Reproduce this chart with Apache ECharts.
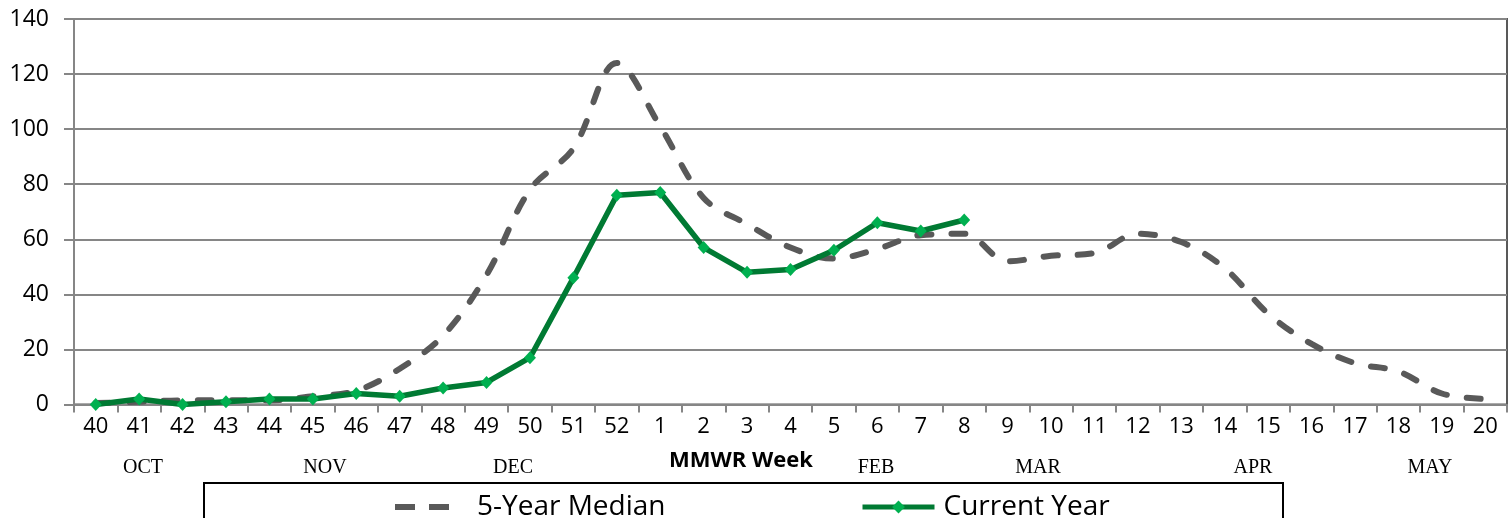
<!DOCTYPE html>
<html><head><meta charset="utf-8">
<script src="https://cdn.jsdelivr.net/npm/echarts@6/dist/echarts.min.js"></script>
<style>html,body{margin:0;padding:0;background:#fff}#c{width:1510px;height:518px}</style>
</head><body><div id="c"></div>
<script>
const weeks = ['40','41','42','43','44','45','46','47','48','49','50','51','52','1','2','3','4','5','6','7','8','9','10','11','12','13','14','15','16','17','18','19','20'];
const medianValues = [0.5,1,1.5,1.5,1.5,3,5,13,25,47,78,93,124,101,75,65.5,57,53,56.5,61.5,62,52,54,55,62,59,49.5,33,22,15,12,4,2];
const currentValues = [0,2,0,1,2,2,4,3,6,8,17,46,76,77,57,48,49,56,66,63,67];
const monthLabels = ['OCT','NOV','DEC','FEB','MAR','APR','MAY'];
const monthX = [143,325,513,876,1038,1253,1430];
const seriesNames = ['5-Year Median','Current Year'];
const axisTitle = 'MMWR Week';

const chart = echarts.init(document.getElementById('c'), null, {renderer:'canvas'});
const font = '"Open Sans", "Noto Sans", sans-serif';
const graphics = monthLabels.map((m,i)=>({
  type:'text', x: monthX[i], y: 458, style:{text:m, fill:'#000', font:'20px "Liberation Serif", "DejaVu Serif", serif', textAlign:'center'}, z:10
}));
graphics.push({type:'text', x:741, y:450, style:{text:axisTitle, fill:'#000', font:'bold 22px '+font, textAlign:'center'}, z:10});
graphics.push({type:'rect', shape:{x:204, y:483, width:1079, height:60}, style:{fill:'none', stroke:'#000', lineWidth:2}, z:1});

chart.setOption({
  animation:false,
  backgroundColor:'#fff',
  grid:{left:74, right:3, top:19, bottom:113.5, show:true, borderColor:'#595959', borderWidth:2, backgroundColor:'transparent'},
  xAxis:{
    type:'category', data:weeks, boundaryGap:true,
    axisLine:{lineStyle:{color:'#868686', width:2}},
    axisTick:{show:true, length:8, lineStyle:{color:'#868686', width:2}},
    axisLabel:{color:'#000', fontFamily:font, fontSize:22, margin:11, interval:0},
    splitLine:{show:false}
  },
  yAxis:{
    type:'value', min:0, max:140, interval:20,
    axisLine:{show:true, lineStyle:{color:'#868686', width:2}},
    axisTick:{show:true, length:10, lineStyle:{color:'#868686', width:2}},
    axisLabel:{color:'#000', fontFamily:font, fontSize:23, margin:25},
    splitLine:{show:true, lineStyle:{color:'#868686', width:2}}
  },
  legend:[
    {data:[{name:seriesNames[0], icon:'path://M0,0H20V6H0Z M34,0H54V6H34Z', itemStyle:{color:'#595959'}}],
     left:390, top:488, itemWidth:56, itemHeight:6, textStyle:{fontFamily:font, fontSize:28, color:'#000', padding:[0,0,0,22]}},
    {data:[seriesNames[1]], left:855, top:488, itemWidth:72, itemHeight:16,
     lineStyle:{width:5, color:'#007A33'}, itemStyle:{color:'#00B050'},
     textStyle:{fontFamily:font, fontSize:28, color:'#000', padding:[0,0,0,4]}}
  ],
  graphic:graphics,
  series:[
    {name:seriesNames[0], type:'line', data:medianValues, smooth:0.35, symbol:'none',
     lineStyle:{color:'#595959', width:6, type:[14,20], cap:'round'}, itemStyle:{color:'#595959'}, z:2},
    {name:seriesNames[1], type:'line', data:currentValues, smooth:false, symbol:'diamond', symbolSize:[12,13],
     lineStyle:{color:'#007A33', width:5.5}, itemStyle:{color:'#00B050'}, z:3}
  ]
});
</script></body></html>
